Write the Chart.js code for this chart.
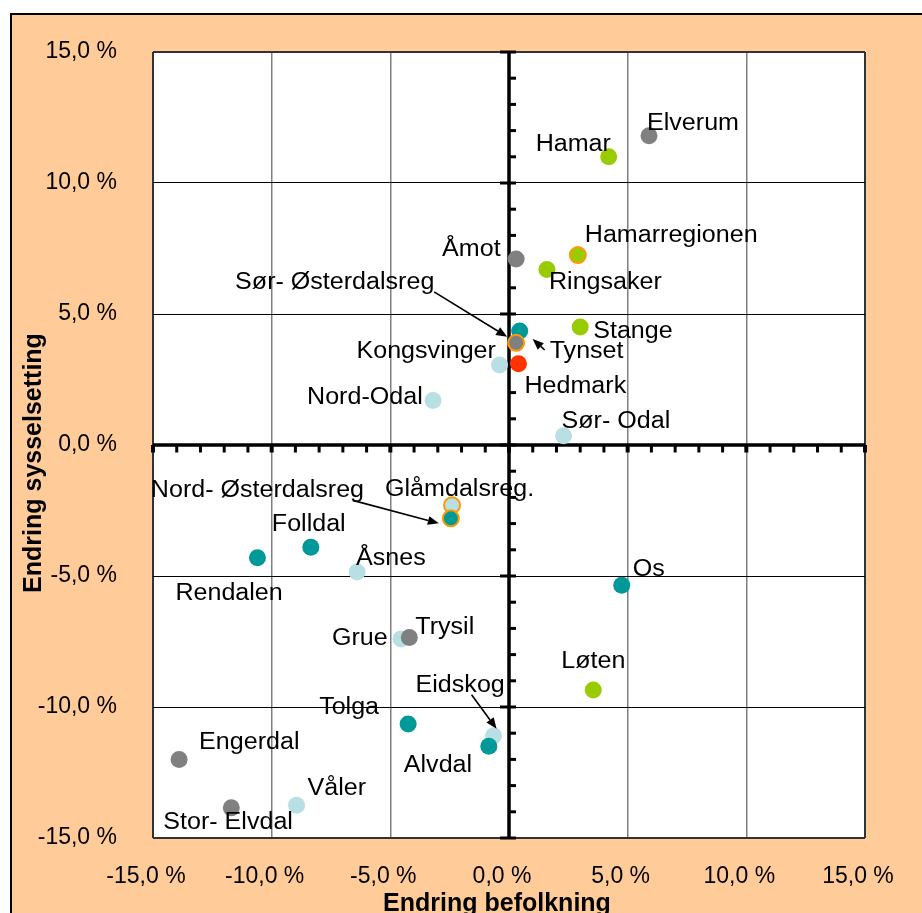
<!DOCTYPE html>
<html>
<head>
<meta charset="utf-8">
<script src="https://cdn.jsdelivr.net/npm/chart.js@4"></script>
<style>
  html, body { margin: 0; padding: 0; background: #ffffff; overflow: hidden; width: 922px; height: 913px; }
  #frame { position: absolute; left: 10px; top: 13px; width: 1000px; height: 1000px; background: #FFCC99; border: 2px solid #000; }
  #c { position: absolute; left: 0; top: 0; }
</style>
</head>
<body>
<div id="frame"></div>
<canvas id="c" width="922" height="913"></canvas>
<script>
// ---- Data (x = Endring befolkning %, y = Endring sysselsetting %) ----
const axisTicks = [-15, -10, -5, 0, 5, 10, 15];

const glamdalNames = ['Kongsvinger', 'Nord-Odal', 'Sør- Odal', 'Åsnes', 'Grue', 'Eidskog', 'Våler'];
const glamdalX     = [-0.4, -3.2, 2.3, -6.4, -4.55, -0.65, -8.95];
const glamdalY     = [3.05, 1.7, 0.35, -4.85, -7.4, -11.1, -13.75];

const sorOstNames = ['Elverum', 'Åmot', 'Trysil', 'Engerdal', 'Stor- Elvdal'];
const sorOstX     = [5.9, 0.3, -4.2, -13.9, -11.7];
const sorOstY     = [11.8, 7.1, -7.35, -12.0, -13.85];

const nordOstNames = ['Tynset', 'Folldal', 'Rendalen', 'Tolga', 'Alvdal', 'Os'];
const nordOstX     = [0.45, -8.35, -10.6, -4.25, -0.85, 4.75];
const nordOstY     = [4.35, -3.9, -4.3, -10.65, -11.5, -5.35];

const hamarNames = ['Hamar', 'Ringsaker', 'Stange', 'Løten'];
const hamarX     = [4.2, 1.6, 3.0, 3.55];
const hamarY     = [11.0, 6.7, 4.5, -9.35];

const regionNames = ['Glåmdalsreg.', 'Nord- Østerdalsreg', 'Sør- Østerdalsreg', 'Hamarregionen'];
const regionX     = [-2.4, -2.45, 0.3, 2.9];
const regionY     = [-2.3, -2.8, 3.9, 7.25];

const fylkeNames = ['Hedmark'];
const fylkeX     = [0.4];
const fylkeY     = [3.1];

// ---- Styling / layout (not data) ----
const C_GRAY = '#808080', C_GREEN = '#99CC00', C_TEAL = '#009999', C_LBLUE = '#B8E0E4', C_RED = '#FF3300', C_ORANGE = '#FF9900';
const regionFill = [C_LBLUE, C_TEAL, C_GRAY, C_GREEN];

// label placement: offset (px) from marker centre to text left/baseline
const labelPlacement = {
  'Elverum': [-2, -6], 'Hamar': [-73, -6], 'Hamarregionen': [7, -13], 'Åmot': [-74, -3],
  'Ringsaker': [2, 20], 'Stange': [13, 11], 'Tynset': [30, 27], 'Sør- Østerdalsreg': [-281, -54],
  'Hedmark': [6, 29], 'Kongsvinger': [-143, -7], 'Nord-Odal': [-126, 4], 'Sør- Odal': [-2, -8],
  'Glåmdalsreg.': [-67, -9], 'Nord- Østerdalsreg': [-300, -21], 'Folldal': [-39, -16],
  'Rendalen': [-82, 42], 'Åsnes': [-1, -7], 'Grue': [-69, 6], 'Trysil': [6, -4], 'Tolga': [-89, -10],
  'Engerdal': [20, -10], 'Stor- Elvdal': [-68, 21], 'Våler': [11, -10], 'Eidskog': [-78, -44],
  'Alvdal': [-85, 26], 'Os': [11, -9], 'Løten': [-32, -22]
};
// leader arrows: [fromDx, fromDy, toDx, toDy] relative to marker centre
const arrowPlacement = {
  'Sør- Østerdalsreg': [-82, -51, -9, -6],
  'Tynset': [25, 19, 13, 8],
  'Nord- Østerdalsreg': [-98, -18, -12, 5],
  'Eidskog': [-22, -41, 3, -7]
};

const FONT = '"Liberation Sans", Arial, Helvetica, sans-serif';
const toPts = (xs, ys) => xs.map((x, i) => ({ x: x, y: ys[i] }));
const fmt = v => v.toFixed(1).replace('.', ',') + ' %';

const plotBg = {
  id: 'plotBg',
  beforeDraw(chart) {
    const { ctx, chartArea: a } = chart;
    ctx.save();
    ctx.fillStyle = '#ffffff';
    ctx.fillRect(a.left, a.top, a.right - a.left, a.bottom - a.top);
    ctx.restore();
  }
};

const centerAxes = {
  id: 'centerAxes',
  beforeDatasetsDraw(chart) {
    const { ctx, chartArea: a, scales } = chart;
    const x0 = scales.x.getPixelForValue(0), y0 = scales.y.getPixelForValue(0);
    ctx.save();
    ctx.fillStyle = '#000';
    ctx.fillRect(x0 - 1.75, a.top, 3.5, a.bottom - a.top);
    ctx.fillRect(a.left, y0 - 1.75, a.right - a.left, 3.5);
    for (let v = -15; v <= 15; v++) {
      const major = v % 5 === 0;
      const py = scales.y.getPixelForValue(v);
      ctx.fillRect(major ? x0 - 9 : x0, py - 1.5, major ? 16 : 7, 3);
      const px = scales.x.getPixelForValue(v);
      ctx.fillRect(px - (major ? 2 : 1.5), y0, major ? 4 : 3, 7.5);
    }
    ctx.restore();
  }
};

const labelsPlugin = {
  id: 'pointLabels',
  afterDatasetsDraw(chart) {
    const { ctx } = chart;
    ctx.save();
    chart.data.datasets.forEach((ds, di) => {
      const meta = chart.getDatasetMeta(di);
      meta.data.forEach((el, i) => {
        const name = ds.names[i];
        const lp = labelPlacement[name] || [8, -8];
        ctx.save();
        ctx.translate(el.x + lp[0], el.y + lp[1]);
        ctx.scale(1.09, 1);
        ctx.font = '23px ' + FONT;
        ctx.fillStyle = '#000';
        ctx.textAlign = 'left';
        ctx.textBaseline = 'alphabetic';
        ctx.fillText(name, 0, 0);
        ctx.restore();
        const ar = arrowPlacement[name];
        if (ar) {
          const fx = el.x + ar[0], fy = el.y + ar[1], tx = el.x + ar[2], ty = el.y + ar[3];
          const ang = Math.atan2(ty - fy, tx - fx);
          const hl = 11, hw = 4.5;
          const bx = tx - hl * Math.cos(ang), by = ty - hl * Math.sin(ang);
          ctx.strokeStyle = '#000';
          ctx.lineWidth = 1.6;
          ctx.beginPath();
          ctx.moveTo(fx, fy);
          ctx.lineTo(bx, by);
          ctx.stroke();
          ctx.fillStyle = '#000';
          ctx.beginPath();
          ctx.moveTo(tx, ty);
          ctx.lineTo(bx + hw * Math.sin(ang), by - hw * Math.cos(ang));
          ctx.lineTo(bx - hw * Math.sin(ang), by + hw * Math.cos(ang));
          ctx.closePath();
          ctx.fill();
        }
      });
    });
    ctx.restore();
  }
};

const titlesPlugin = {
  id: 'axisTitles',
  afterDraw(chart) {
    const { ctx, chartArea: a } = chart;
    ctx.save();
    ctx.fillStyle = '#000';
    ctx.font = 'bold 25px ' + FONT;
    ctx.textAlign = 'center';
    ctx.textBaseline = 'alphabetic';
    ctx.fillText('Endring befolkning', (a.left + a.right) / 2 - 12, a.bottom + 73);
    ctx.translate(a.left - 112, (a.top + a.bottom) / 2 + 18);
    ctx.rotate(-Math.PI / 2);
    ctx.fillText('Endring sysselsetting', 0, 0);
    ctx.restore();
  }
};

const baseDs = (label, names, xs, ys, color) => ({
  label: label, names: names, data: toPts(xs, ys),
  backgroundColor: color, borderWidth: 0, pointRadius: 8.5, pointHoverRadius: 8.5
});

// first dataset is drawn on top
const datasets = [
  baseDs('Hedmark', fylkeNames, fylkeX, fylkeY, C_RED),
  { label: 'Regioner', names: regionNames, data: toPts(regionX, regionY),
    backgroundColor: regionFill, borderColor: C_ORANGE, borderWidth: 2, pointRadius: 8, pointHoverRadius: 8 },
  baseDs('Hamarregionen', hamarNames, hamarX, hamarY, C_GREEN),
  baseDs('Nord-Østerdalen', nordOstNames, nordOstX, nordOstY, C_TEAL),
  baseDs('Sør-Østerdalen', sorOstNames, sorOstX, sorOstY, C_GRAY),
  baseDs('Glåmdalen', glamdalNames, glamdalX, glamdalY, C_LBLUE)
];

const edge = v => Math.abs(v) === 15;

new Chart(document.getElementById('c'), {
  type: 'scatter',
  data: { datasets: datasets },
  options: {
    responsive: false,
    animation: false,
    devicePixelRatio: 1,
    layout: { padding: { left: 12, top: 52, right: 57, bottom: 0 } },
    plugins: { legend: { display: false }, tooltip: { enabled: false } },
    scales: {
      x: {
        type: 'linear', min: -15, max: 15,
        afterBuildTicks: s => { s.ticks = axisTicks.map(v => ({ value: v })); },
        afterFit: s => { s.height = 75; s.paddingLeft = 0; s.paddingRight = 0; },
        border: { display: false },
        grid: {
          drawTicks: false,
          color: c => edge(c.tick.value) ? '#333333' : '#7f7f7f',
          lineWidth: c => edge(c.tick.value) ? 2 : 1.5
        },
        ticks: { callback: v => fmt(v), font: { family: FONT, size: 23 }, color: '#000', padding: 25, labelOffset: -7, maxRotation: 0, autoSkip: false }
      },
      y: {
        type: 'linear', min: -15, max: 15,
        afterBuildTicks: s => { s.ticks = axisTicks.map(v => ({ value: v })); },
        afterFit: s => { s.width = 141; s.paddingTop = 0; s.paddingBottom = 0; },
        border: { display: false },
        grid: {
          drawTicks: false,
          color: c => edge(c.tick.value) ? '#333333' : '#000000',
          lineWidth: c => edge(c.tick.value) ? 2 : 1
        },
        ticks: { callback: v => fmt(v), font: { family: FONT, size: 23 }, color: '#000', padding: 36, autoSkip: false }
      }
    }
  },
  plugins: [plotBg, centerAxes, labelsPlugin, titlesPlugin]
});
</script>
</body>
</html>
